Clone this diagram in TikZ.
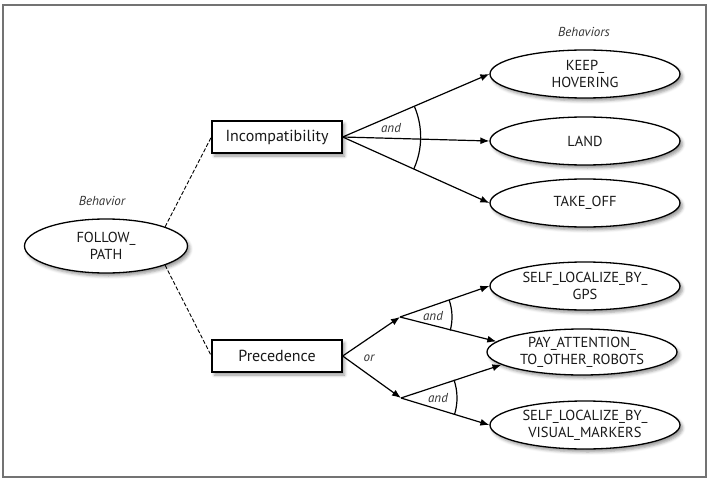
\documentclass[tikz,border=0pt]{standalone}
\usepackage{fontspec}
\setmainfont{PT Sans}
\usetikzlibrary{shapes.geometric,arrows.meta,shadows.blur}
\tikzset{
  shade/.style={blur shadow={shadow xshift=2.5pt,shadow yshift=-3pt,shadow blur radius=3pt,shadow opacity=40}},
  beh/.style={ellipse,draw,line width=1.3pt,fill=white,shade,inner sep=0pt,minimum width=190pt,minimum height=48pt,
    align=center,text=black!90,font=\fontsize{14.5}{17}\selectfont},
  rel/.style={rectangle,draw,line width=1.3pt,fill=white,shade,minimum width=130pt,minimum height=32pt,
    text=black!90,font=\fontsize{16}{19}\selectfont},
  lbl/.style={text=black!80,font=\itshape\fontsize{13}{15}\selectfont}
}
\begin{document}
\begin{tikzpicture}[x=1pt,y=-1pt,line width=1.2pt,>={Latex[length=9pt,width=7pt]}]
\useasboundingbox (0,0) rectangle (711,481);
\draw[black!55,line width=1.5pt] (3,5) rectangle (706,477);
\node[lbl] (beh) at (102,201) {Behavior};
\node[beh,minimum width=163pt,minimum height=54pt] (fp) at (106,246) {FOLLOW\_\\PATH};
\node[rel] (inc) at (277,137) {Incompatibility};
\node[rel] (prec) at (277,356) {Precedence};
\node[lbl] (behs) at (584,32) {Behaviors};
\node[beh] (keep) at (585,74) {KEEP\_\\HOVERING};
\node[beh] (land) at (585,141) {LAND};
\node[beh] (take) at (585,203) {TAKE\_OFF};
\node[beh] (gps) at (585,286) {SELF\_LOCALIZE\_BY\_\\GPS};
\node[beh,minimum height=46pt] (pay) at (582,352) {PAY\_ATTENTION\_\\TO\_OTHER\_ROBOTS};
\node[beh] (vis) at (585,425) {SELF\_LOCALIZE\_BY\_\\VISUAL\_MARKERS};
\coordinate (j1) at (400,317);
\coordinate (j2) at (401,398);
\draw[dash pattern=on 4pt off 2pt,line width=0.9pt] (fp.18) -- (inc.west);
\draw[dash pattern=on 4pt off 2pt,line width=0.9pt] (fp.-18) -- (prec.west);
\draw[->] (inc.east) -- (keep.west);
\draw[->] (inc.east) -- (land.west);
\draw[->] (inc.east) -- (take.west);
\draw (inc.east) ++(-23:78) arc[start angle=-23,end angle=24,radius=78];
\node[lbl] (and1) at (391,128) {and};
\draw[->] (prec.east) -- (j1);
\draw[->] (prec.east) -- (j2);
\node[lbl] (or) at (369,358) {or};
\draw[->] (j1) -- (gps.west);
\draw[->] (j1) -- (pay.173);
\draw (j1) ++(-19:52) arc[start angle=-19,end angle=15,radius=52];
\node[lbl] (and2) at (433,316) {and};
\draw[->] (j2) -- (pay.189);
\draw[->] (j2) -- (vis.west);
\draw (j2) ++(-19:56) arc[start angle=-19,end angle=17,radius=56];
\node[lbl] (and3) at (438,398) {and};
\end{tikzpicture}
\end{document}
